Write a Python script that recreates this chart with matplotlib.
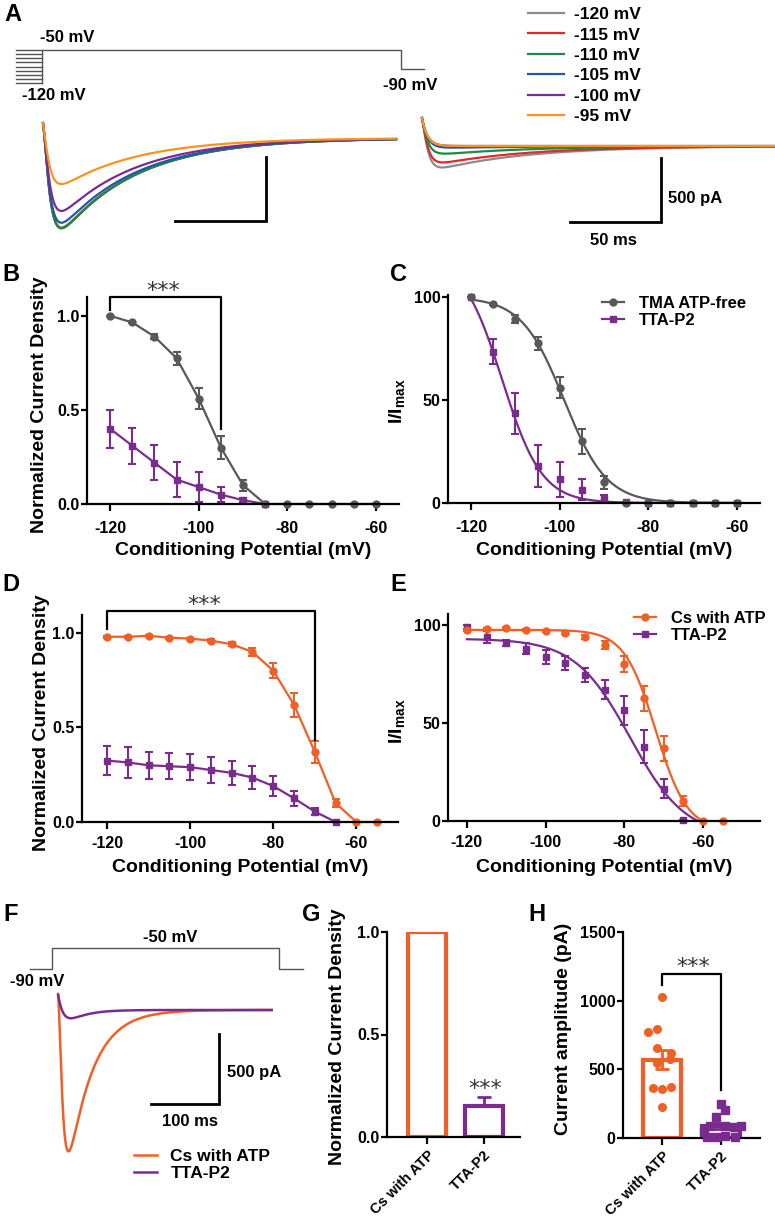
import numpy as np
import matplotlib
matplotlib.use('Agg')
import matplotlib.pyplot as plt
from matplotlib.lines import Line2D

plt.rcParams['font.family'] = ['Liberation Sans', 'DejaVu Sans']
plt.rcParams['font.weight'] = 'bold'
plt.rcParams['axes.unicode_minus'] = False
plt.rcParams['mathtext.fontset'] = 'custom'
plt.rcParams['mathtext.bf'] = 'Liberation Sans:bold'
plt.rcParams['mathtext.rm'] = 'Liberation Sans:bold'

# ---------------- data ----------------
GRAY = '#585858'
PURPLE = '#7a2c8e'
ORANGE = '#f05f25'

# panel A (example traces)
cond_labels = ['-120 mV', '-115 mV', '-110 mV', '-105 mV', '-100 mV', '-95 mV']
cond_colors = ['#8c8c8c', '#e3282c', '#1b8a42', '#2158a8', '#7b2b90', '#f7941d']
left_peaks = [700, 703, 706, 662, 570, 360]      # pA
right_peaks = [175, 135, 65, 15, 0, 0]           # pA
cond_steps = [-120, -111, -102, -94, -85, -76, -67, -59, -50]

# panels B-E
volt = [-120, -115, -110, -105, -100, -95, -90, -85, -80, -75, -70, -65, -60]
volt_de = [-120, -115, -110, -105, -100, -95, -90, -85, -80, -75, -70, -65, -60, -55]

tma_b = [1.0, 0.965, 0.89, 0.775, 0.56, 0.30, 0.10, 0, 0, 0, 0, 0, 0]
tma_b_err = [0, 0.005, 0.015, 0.035, 0.055, 0.06, 0.03, 0, 0, 0, 0, 0, 0]
tta_b = [0.40, 0.31, 0.22, 0.13, 0.09, 0.05, 0.02, 0]
tta_b_err = [0.10, 0.095, 0.095, 0.095, 0.08, 0.04, 0.01, 0]

tma_c = [100, 96.5, 89.5, 77.5, 56, 30, 10, 0, 0, 0, 0, 0, 0]
tma_c_err = [0, 0.5, 2, 3, 5, 6, 3, 0, 0, 0, 0, 0, 0]
tta_c = [100, 73.5, 43.5, 18, 11.5, 6.5, 2.5, 0.5, 0, 0, 0, 0, 0]
tta_c_err = [0, 6, 10, 10, 8.5, 5, 1.5, 0, 0, 0, 0, 0, 0]
fit_c_tma = (100, 0, -99, 4.8)      # top, bottom, V50, k
fit_c_tta = (120, 0, -113, 4.5)

cs_d = [0.98, 0.98, 0.985, 0.975, 0.97, 0.96, 0.94, 0.90, 0.80, 0.62, 0.37, 0.10, 0, 0]
cs_d_err = [0.005, 0.005, 0.005, 0.005, 0.005, 0.008, 0.01, 0.02, 0.04, 0.065, 0.06, 0.02, 0, 0]
tta_d = [0.325, 0.315, 0.30, 0.295, 0.29, 0.275, 0.26, 0.235, 0.19, 0.125, 0.055, 0.0]
tta_d_err = [0.075, 0.08, 0.07, 0.07, 0.07, 0.07, 0.065, 0.06, 0.055, 0.04, 0.02, 0]

cs_e = [97.5, 98, 98.5, 97.5, 97, 96, 94, 90, 80, 62.5, 37, 10, 0, 0]
cs_e_err = [0.5, 0.5, 0.5, 0.5, 0.5, 0.8, 1, 2, 4, 6.5, 6.5, 2.5, 0, 0]
tta_e = [99, 94, 91, 88, 83.5, 80.5, 74.5, 67, 56.5, 38, 16.5, 0.5]
tta_e_err = [1, 3, 1.5, 3, 3.5, 3.5, 3.5, 5, 7.5, 8.5, 5, 0]
fit_e_cs = (97.5, -5, -72, 4)
fit_e_tta = (93, -8, -78.5, 7)

# panel F (example traces)
f_labels = ['Cs with ATP', 'TTA-P2']
f_peaks = [1010, 60]

# panel G
groups = ['Cs with ATP', 'TTA-P2']
g_vals = [1.0, 0.15]
g_err = [0, 0.045]

# panel H
cs_amp = [1024, 770, 791, 653, 617, 548, 573, 362, 355, 369, 224]
cs_jit = [0, -0.24, -0.085, -0.085, 0.15, -0.085, 0.14, -0.15, 0, 0.15, 0]
tta_amp = [245, 204, 155, 90, 85, 88, 80, 45, 10, 8, 15, 10]
tta_jit = [0, 0.07, -0.08, -0.18, 0.07, 0.33, 0.22, -0.29, -0.24, -0.08, 0.07, 0.24]

# ---------------- helpers ----------------
W, H = 775, 1223
fig = plt.figure(figsize=(W / 100, H / 100), dpi=100)


def px_axes(l, t, r, b):
    return fig.add_axes([l / W, 1 - b / H, (r - l) / W, (b - t) / H])


def ftext(x, y, s, **kw):
    kw.setdefault('fontweight', 'bold')
    fig.text(x / W, 1 - y / H, s, **kw)


def trace_axes(l, t, r, b, x0, y0, px_x, px_y):
    ax = px_axes(l, t, r, b)
    ax.set_xlim((l - x0) / px_x, (r - x0) / px_x)
    ax.set_ylim((y0 - b) / px_y, (y0 - t) / px_y)
    ax.axis('off')
    return ax


def style(ax, xpad=6):
    for s in ['top', 'right']:
        ax.spines[s].set_visible(False)
    for s in ['left', 'bottom']:
        ax.spines[s].set_linewidth(1.6)
    ax.tick_params(width=1.6, labelsize=11.5)
    ax.tick_params(axis='x', length=5, pad=xpad)
    ax.tick_params(axis='y', length=4, pad=1.5)


def boltz(v, top, bottom, v50, k):
    return bottom + (top - bottom) / (1 + np.exp((v - v50) / k))


def trace(t, amp, art, tc, tm, th, p=2):
    g = (1 - np.exp(-t / tm)) ** p * np.exp(-t / th)
    return art * np.exp(-t / tc) - amp * g / g.max()


def scalebar(ax, t_end, i_bot, dt, di):
    ax.plot([t_end - dt, t_end, t_end], [i_bot, i_bot, i_bot + di], color='k', lw=2,
            solid_joinstyle='miter')


def stars(x, y, **kw):
    ftext(x, y, '***', ha='center', va='center', fontsize=16,
          family='DejaVu Sans', fontweight='normal', color='#333333', **kw)

# ---------------- panel A ----------------
axP = trace_axes(8, 40, 432, 92, 42, 50, 1.82, 0.475)   # ms, mV relative to -50
pc = '#555555'
for v in cond_steps:
    axP.plot([-14.3, 0], [v + 50, v + 50], color=pc, lw=1)
axP.plot([0, 0, 197, 197, 210], [-70, 0, 0, -40, -40], color=pc, lw=1)
ftext(40, 38, '-50 mV', fontsize=12, va='center')
ftext(22, 95, '-120 mV', fontsize=12, va='center')
ftext(383, 86, '-90 mV', fontsize=12, va='center')

tA = np.linspace(0, 194, 1200)
axL = trace_axes(38, 95, 405, 245, 43, 138, 1.82, 0.128)
axR = trace_axes(415, 95, 775, 250, 422, 146, 1.82, 0.128)
handles = []
for lab, col, a1, a2 in zip(cond_labels, cond_colors, left_peaks, right_peaks):
    h, = axL.plot(tA, trace(tA, a1, 117, 1.2, 3.0, 42), color=col, lw=1.6, label=lab)
    axR.plot(tA, trace(tA, a2, 219, 3.0, 2.5, 50), color=col, lw=1.6)
    handles.append(h)
scalebar(axL, 122.5, -650, 50, 500)
scalebar(axR, 131.3, -594, 50, 500)
ftext(668, 198, '500 pA', fontsize=12, va='center')
ftext(613, 240, '50 ms', fontsize=12, ha='center', va='center')
fig.legend(handles, cond_labels, loc='upper left', bbox_to_anchor=(528 / W, 1 - 7 / H),
           frameon=False, fontsize=12.5, handlelength=2.1, handletextpad=0.55,
           labelspacing=0.3, borderpad=0, borderaxespad=0)

# ---------------- panel B ----------------
axB = px_axes(87, 297, 399, 504)
style(axB, xpad=7)
eb = dict(capsize=3, capthick=1.5, elinewidth=1.5, lw=1.6, ms=5, clip_on=False)
axB.errorbar(volt[:len(tta_b)], tta_b, yerr=tta_b_err, color=PURPLE, marker='s', **eb)
axB.errorbar(volt, tma_b, yerr=tma_b_err, color=GRAY, marker='o', **eb)
axB.set_xlim(-125.2, -54.8)
axB.set_ylim(0, 1.1)
axB.set_xticks([-120, -100, -80, -60])
axB.set_yticks([0, 0.5, 1.0])
axB.set_yticklabels(['0.0', '0.5', '1.0'])
axB.plot([-120, -120, -95, -95], [1.03, 1.1, 1.1, 0.40], color='k', lw=1.6, clip_on=False)
stars(163, 291)

# ---------------- panel C ----------------
axC = px_axes(448, 295, 760, 503)
style(axC, xpad=7)
vfit = np.linspace(-120, -60, 300)
axC.plot(vfit, np.clip(boltz(vfit, *fit_c_tta), 0, None), color=PURPLE, lw=1.6)
axC.plot(vfit, np.clip(boltz(vfit, *fit_c_tma), 0, None), color=GRAY, lw=1.6)
ebp = dict(capsize=3, capthick=1.5, elinewidth=1.5, ms=5, ls='none', clip_on=False)
axC.errorbar(volt, tta_c, yerr=tta_c_err, color=PURPLE, marker='s', **ebp)
axC.errorbar(volt, tma_c, yerr=tma_c_err, color=GRAY, marker='o', **ebp)
axC.set_xlim(-125.2, -54.8)
axC.set_ylim(0, 101)
axC.set_xticks([-120, -100, -80, -60])
axC.set_yticks([0, 50, 100])
axC.legend([Line2D([], [], color=GRAY, marker='o', ms=5, lw=1.6),
            Line2D([], [], color=PURPLE, marker='s', ms=5, lw=1.6)],
           ['TMA ATP-free', 'TTA-P2'], loc='upper left',
           bbox_to_anchor=(602 / W, 1 - 296 / H), bbox_transform=fig.transFigure,
           frameon=False, fontsize=12, handlelength=1.3, handletextpad=0.9,
           labelspacing=0.1, borderpad=0, borderaxespad=0)

# ---------------- panel D ----------------
axD = px_axes(82, 615, 398, 822)
style(axD, xpad=5)
axD.errorbar(volt_de[:len(tta_d)], tta_d, yerr=tta_d_err, color=PURPLE, marker='s', **eb)
axD.errorbar(volt_de, cs_d, yerr=cs_d_err, color=ORANGE, marker='o', **eb)
axD.set_xlim(-126, -50)
axD.set_ylim(0, 1.095)
axD.set_xticks([-120, -100, -80, -60])
axD.set_yticks([0, 0.5, 1.0])
axD.set_yticklabels(['0.0', '0.5', '1.0'])
axD.plot([-120, -120, -70, -70], [1.02, 1.115, 1.115, 0.434], color='k', lw=1.6, clip_on=False)
stars(204, 605)

# ---------------- panel E ----------------
axE = px_axes(448, 614, 760, 821)
style(axE, xpad=5)
axE.plot(vfit, np.clip(boltz(vfit, *fit_e_tta), 0, None), color=PURPLE, lw=1.6)
axE.plot(vfit, np.clip(boltz(vfit, *fit_e_cs), 0, None), color=ORANGE, lw=1.6)
axE.errorbar(volt_de[:len(tta_e)], tta_e, yerr=tta_e_err, color=PURPLE, marker='s', **ebp)
axE.errorbar(volt_de, cs_e, yerr=cs_e_err, color=ORANGE, marker='o', **ebp)
axE.set_xlim(-124.8, -45.5)
axE.set_ylim(0, 105.6)
axE.set_xticks([-120, -100, -80, -60])
axE.set_yticks([0, 50, 100])
axE.legend([Line2D([], [], color=ORANGE, marker='o', ms=5, lw=1.6),
            Line2D([], [], color=PURPLE, marker='s', ms=5, lw=1.6)],
           ['Cs with ATP', 'TTA-P2'], loc='upper left',
           bbox_to_anchor=(634 / W, 1 - 611 / H), bbox_transform=fig.transFigure,
           frameon=False, fontsize=12, handlelength=1.3, handletextpad=0.9,
           labelspacing=0.1, borderpad=0, borderaxespad=0)

# axis labels B-E
for x, y in [(40, 405), (42, 723)]:
    ftext(x, y, 'Normalized Current Density', fontsize=14, rotation=90, ha='center', va='center')
for x, y in [(398, 401), (398, 721)]:
    ftext(x, y, r'$\mathbf{I/I}_{\mathbf{max}}$', fontsize=14, rotation=90, ha='center', va='center')
for x, y in [(243, 551), (604, 551), (240, 867), (604, 867)]:
    ftext(x, y, 'Conditioning Potential (mV)', fontsize=14, ha='center', va='center')

# ---------------- panel F ----------------
axFp = trace_axes(20, 930, 312, 985, 52, 969, 0.68, 0.525)   # ms, mV relative to -90
axFp.plot([-32, 0, 0, 334, 334, 369], [0, 0, 40, 40, 0, 0], color=pc, lw=1)
ftext(170, 937, '-50 mV', fontsize=12, ha='center', va='center')
ftext(37, 982, '-90 mV', fontsize=12, ha='center', va='center')

axF = trace_axes(20, 985, 312, 1165, 52, 1010, 0.68, 0.14)
tF = np.linspace(9, 323, 1500)
fh = []
h, = axF.plot(tF, trace(tF - 9, f_peaks[0], 114, 2.0, 6.0, 35), color=ORANGE, lw=1.8)
fh.append(h)
h, = axF.plot(tF, trace(tF - 9, f_peaks[1], 107, 4.0, 10.0, 25), color=PURPLE, lw=1.8)
fh.append(h)
scalebar(axF, 245.6, -671, 100, 500)
ftext(227, 1073, '500 pA', fontsize=12, va='center')
ftext(190, 1121, '100 ms', fontsize=12, ha='center', va='center')
fig.legend(fh, f_labels, loc='upper left', bbox_to_anchor=(134 / W, 1 - 1149 / H),
           frameon=False, fontsize=12.5, handlelength=1.3, handletextpad=0.8,
           labelspacing=0.1, borderpad=0, borderaxespad=0)

# ---------------- panel G ----------------
axG = px_axes(387, 932, 520, 1137)
style(axG, xpad=3)
axG.bar([0, 1], g_vals, width=0.65, fill=False, edgecolor=[ORANGE, PURPLE], lw=3)
axG.errorbar([1], [g_vals[1]], yerr=[[0], [g_err[1]]], fmt='none', ecolor=PURPLE,
             elinewidth=2, capsize=5, capthick=2)
axG.set_xlim(-0.70, 1.63)
axG.set_ylim(0, 1.0)
axG.set_yticks([0, 0.5, 1.0])
axG.set_yticklabels(['0.0', '0.5', '1.0'])
axG.set_xticks([0, 1])
axG.set_xticklabels(groups, rotation=45, ha='right', rotation_mode='anchor', fontsize=10.5)
stars(485, 1089)
ftext(338, 1037, 'Normalized Current Density', fontsize=14, rotation=90, ha='center', va='center')

# ---------------- panel H ----------------
axH = px_axes(623, 932, 760, 1138)
style(axH, xpad=3)
means = [np.mean(cs_amp), np.mean(tta_amp)]
sems = [np.std(cs_amp, ddof=1) / np.sqrt(len(cs_amp)),
        np.std(tta_amp, ddof=1) / np.sqrt(len(tta_amp))]
axH.bar([0, 1], means, width=0.64, fill=False, edgecolor=[ORANGE, PURPLE], lw=3)
for i, col in enumerate([ORANGE, PURPLE]):
    axH.errorbar([i], [means[i]], yerr=[sems[i]], fmt='none', ecolor=col,
                 elinewidth=2, capsize=5, capthick=2)
axH.plot(np.array(cs_jit), cs_amp, 'o', color=ORANGE, ms=5.5, clip_on=False, zorder=3)
axH.plot(1 + np.array(tta_jit), tta_amp, 's', color=PURPLE, ms=5.5, clip_on=False, zorder=3)
axH.plot([0, 0, 1, 1], [1114, 1194, 1194, 350], color='k', lw=1.6)
axH.set_xlim(-0.66, 1.66)
axH.set_ylim(0, 1500)
axH.set_yticks([0, 500, 1000, 1500])
axH.set_xticks([0, 1])
axH.set_xticklabels(groups, rotation=45, ha='right', rotation_mode='anchor', fontsize=10.5)
stars(693, 967)
ftext(563, 1029, 'Current amplitude (pA)', fontsize=14, rotation=90, ha='center', va='center')

# panel letters
for s, x, y in [('A', 4, 3), ('B', 2, 263), ('C', 390, 263), ('D', 2, 573), ('E', 390, 573),
                ('F', 3, 903), ('G', 302, 903), ('H', 528, 903)]:
    ftext(x, y, s, fontsize=17, va='top')

fig.savefig('out.png', dpi=100)
